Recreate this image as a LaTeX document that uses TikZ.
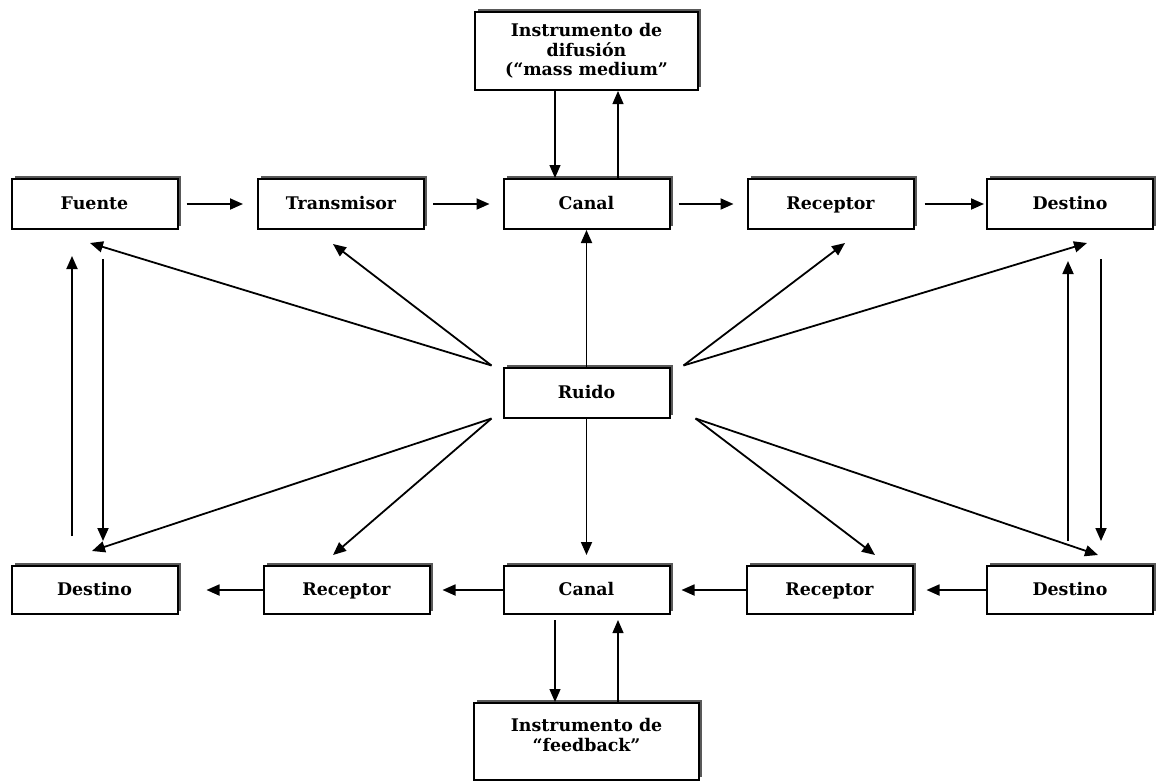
\documentclass[tikz,border=0pt]{standalone}
\usepackage{fontspec}
\newfontfamily\boxfont{DejaVu Serif Bold}
\usetikzlibrary{arrows.meta,calc,shadows}
\begin{document}
\begin{tikzpicture}[x=0.5pt,y=-0.5pt,
  box/.style={draw=black, line width=1pt, fill=white, rectangle, inner sep=0pt,
    font=\boxfont\fontsize{8.7}{9.7}\selectfont, align=center,
    general shadow={shadow xshift=1.5pt, shadow yshift=1.5pt, fill=black!65}},
  sbox/.style={box, minimum width=83pt, minimum height=25pt, text height=6.4pt, text depth=0.6pt},
  arr/.style={line width=0.9pt, -{Triangle[length=6.5pt,width=5.5pt]}},
  tarr/.style={line width=0.6pt, -{Triangle[length=6.5pt,width=5.5pt]}}]
\fill[white] (0,0) rectangle (1157,782);
\useasboundingbox (0,0) rectangle (1157,782);
% top
\node[box, minimum width=111.5pt, minimum height=39pt] (dif) at (586.5,51)
  {Instrumento de\\difusión\\(“mass medium”};
% row 1
\node[sbox] (fuente) at (94.5,204) {Fuente};
\node[sbox] (trans) at (341,204) {Transmisor};
\node[sbox] (canal1) at (586.5,204) {Canal};
\node[sbox] (rec1) at (830.5,204) {Receptor};
\node[sbox] (dest1) at (1070,204) {Destino};
% middle
\node[sbox] (ruido) at (586.5,392.5) {Ruido};
% row 3
\node[sbox, minimum height=24pt] (dest2) at (94.5,590) {Destino};
\node[sbox, minimum height=24pt] (rec2) at (346.5,590) {Receptor};
\node[sbox, minimum height=24pt] (canal2) at (586.5,590) {Canal};
\node[sbox, minimum height=24pt] (rec3) at (829.5,590) {Receptor};
\node[sbox, minimum height=24pt] (dest3) at (1070,590) {Destino};
% bottom
\node[box, minimum width=112.5pt, minimum height=38.5pt] (feedback) at (586.5,741.5)
  {Instrumento de\\“feedback”\\[-3pt]\mbox{}};
% row 1 arrows
\draw[arr, shorten <=4pt, shorten >=7pt] (fuente) -- (trans);
\draw[arr, shorten <=4pt, shorten >=6.5pt] (trans) -- (canal1);
\draw[arr, shorten <=4pt, shorten >=6.5pt] (canal1) -- (rec1);
\draw[arr, shorten <=5pt, shorten >=1pt] (rec1) -- (dest1);
% row 3 arrows
\draw[arr, shorten >=6.5pt] (dest3) -- (rec3);
\draw[arr, shorten >=5.5pt] (rec3) -- (canal2);
\draw[arr, shorten >=6pt] (canal2) -- (rec2);
\draw[arr, shorten >=14pt] (rec2) -- (dest2);
% central verticals
\draw[tarr] ($(dif.south)+(-31.5,0)$) -- ($(canal1.north)+(-31.5,0)$);
\draw[tarr] ($(canal1.north)+(31.5,0)$) -- ($(dif.south)+(31.5,0)$);
\draw[arr] (ruido) -- (canal1);
\draw[arr, shorten >=5pt] (ruido) -- (canal2);
\draw[tarr, shorten <=2.5pt] ($(canal2.south)+(-31.5,0)$) -- ($(feedback.north)+(-31.5,0)$);
\draw[tarr, shorten >=2.5pt] ($(feedback.north)+(31.5,0)$) -- ($(canal2.south)+(31.5,0)$);
% left verticals
\draw[arr, shorten <=14.5pt, shorten >=13pt] ($(dest2.north)+(-22.5,0)$) -- ($(fuente.south)+(-22.5,0)$);
\draw[arr, shorten <=14.5pt, shorten >=12pt] ($(fuente.south)+(8.5,0)$) -- ($(dest2.north)+(8.5,0)$);
% right verticals
\draw[arr, shorten <=12pt, shorten >=15.5pt] ($(dest3.north)+(-2,0)$) -- ($(dest1.south)+(-2,0)$);
\draw[arr, shorten <=14.5pt, shorten >=12pt] ($(dest1.south)+(31,0)$) -- ($(dest3.north)+(31,0)$);
% diagonals from Ruido
\draw[arr] ($(ruido.north west)+(-11,-1)$) -- ($(fuente.south)+(-4.5,13)$);
\draw[arr] ($(ruido.north west)+(-11,-1)$) -- ($(trans.south)+(-8,14)$);
\draw[arr] ($(ruido.north east)+(13,-1)$) -- ($(rec1.south)+(14.5,13)$);
\draw[arr] ($(ruido.north east)+(13,-1)$) -- ($(dest1.south)+(17,13)$);
\draw[arr] ($(ruido.south west)+(-11,0)$) -- ($(dest2.north)+(-2.5,-14)$);
\draw[arr] ($(ruido.south west)+(-11,0)$) -- ($(rec2.north)+(-13.5,-10)$);
\draw[arr] ($(ruido.south east)+(25,0)$) -- ($(rec3.north)+(45.5,-10)$);
\draw[arr] ($(ruido.south east)+(25,0)$) -- ($(dest3.north)+(28,-10)$);
\end{tikzpicture}
\end{document}
